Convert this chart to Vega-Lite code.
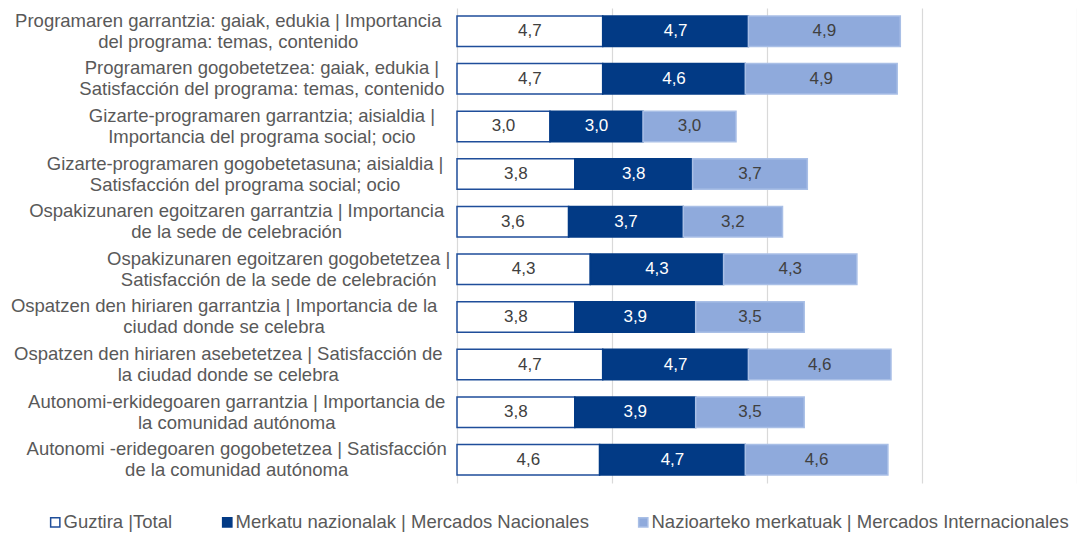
{
  "$schema": "https://vega.github.io/schema/vega-lite/v6.json",
  "width": 620,
  "height": 475,
  "autosize": {"type": "none"},
  "padding": {"left": 457, "top": 8, "right": 0, "bottom": 50},
  "background": "white",
  "config": {
    "view": {"stroke": null},
    "font": "Liberation Sans",
    "locale": {"number": {"decimal": ",", "thousands": ".", "grouping": [3], "currency": ["", " €"]}}
  },
  "data": {
    "values": [
      {"cat": "Programaren garrantzia: gaiak, edukia | Importancia\ndel programa: temas, contenido", "series": "Guztira |Total", "o": 1, "value": 4.7},
      {"cat": "Programaren garrantzia: gaiak, edukia | Importancia\ndel programa: temas, contenido", "series": "Merkatu nazionalak | Mercados Nacionales", "o": 2, "value": 4.7},
      {"cat": "Programaren garrantzia: gaiak, edukia | Importancia\ndel programa: temas, contenido", "series": "Nazioarteko merkatuak | Mercados Internacionales", "o": 3, "value": 4.9},
      {"cat": "Programaren gogobetetzea: gaiak, edukia |\nSatisfacción del programa: temas, contenido", "series": "Guztira |Total", "o": 1, "value": 4.7},
      {"cat": "Programaren gogobetetzea: gaiak, edukia |\nSatisfacción del programa: temas, contenido", "series": "Merkatu nazionalak | Mercados Nacionales", "o": 2, "value": 4.6},
      {"cat": "Programaren gogobetetzea: gaiak, edukia |\nSatisfacción del programa: temas, contenido", "series": "Nazioarteko merkatuak | Mercados Internacionales", "o": 3, "value": 4.9},
      {"cat": "Gizarte-programaren garrantzia; aisialdia |\nImportancia del programa social; ocio", "series": "Guztira |Total", "o": 1, "value": 3.0},
      {"cat": "Gizarte-programaren garrantzia; aisialdia |\nImportancia del programa social; ocio", "series": "Merkatu nazionalak | Mercados Nacionales", "o": 2, "value": 3.0},
      {"cat": "Gizarte-programaren garrantzia; aisialdia |\nImportancia del programa social; ocio", "series": "Nazioarteko merkatuak | Mercados Internacionales", "o": 3, "value": 3.0},
      {"cat": "Gizarte-programaren gogobetetasuna; aisialdia |\nSatisfacción del programa social; ocio", "series": "Guztira |Total", "o": 1, "value": 3.8},
      {"cat": "Gizarte-programaren gogobetetasuna; aisialdia |\nSatisfacción del programa social; ocio", "series": "Merkatu nazionalak | Mercados Nacionales", "o": 2, "value": 3.8},
      {"cat": "Gizarte-programaren gogobetetasuna; aisialdia |\nSatisfacción del programa social; ocio", "series": "Nazioarteko merkatuak | Mercados Internacionales", "o": 3, "value": 3.7},
      {"cat": "Ospakizunaren egoitzaren garrantzia | Importancia\nde la sede de celebración", "series": "Guztira |Total", "o": 1, "value": 3.6},
      {"cat": "Ospakizunaren egoitzaren garrantzia | Importancia\nde la sede de celebración", "series": "Merkatu nazionalak | Mercados Nacionales", "o": 2, "value": 3.7},
      {"cat": "Ospakizunaren egoitzaren garrantzia | Importancia\nde la sede de celebración", "series": "Nazioarteko merkatuak | Mercados Internacionales", "o": 3, "value": 3.2},
      {"cat": "Ospakizunaren egoitzaren gogobetetzea |\nSatisfacción de la sede de celebración", "series": "Guztira |Total", "o": 1, "value": 4.3},
      {"cat": "Ospakizunaren egoitzaren gogobetetzea |\nSatisfacción de la sede de celebración", "series": "Merkatu nazionalak | Mercados Nacionales", "o": 2, "value": 4.3},
      {"cat": "Ospakizunaren egoitzaren gogobetetzea |\nSatisfacción de la sede de celebración", "series": "Nazioarteko merkatuak | Mercados Internacionales", "o": 3, "value": 4.3},
      {"cat": "Ospatzen den hiriaren garrantzia | Importancia de la\nciudad donde se celebra", "series": "Guztira |Total", "o": 1, "value": 3.8},
      {"cat": "Ospatzen den hiriaren garrantzia | Importancia de la\nciudad donde se celebra", "series": "Merkatu nazionalak | Mercados Nacionales", "o": 2, "value": 3.9},
      {"cat": "Ospatzen den hiriaren garrantzia | Importancia de la\nciudad donde se celebra", "series": "Nazioarteko merkatuak | Mercados Internacionales", "o": 3, "value": 3.5},
      {"cat": "Ospatzen den hiriaren asebetetzea | Satisfacción de\nla ciudad donde se celebra", "series": "Guztira |Total", "o": 1, "value": 4.7},
      {"cat": "Ospatzen den hiriaren asebetetzea | Satisfacción de\nla ciudad donde se celebra", "series": "Merkatu nazionalak | Mercados Nacionales", "o": 2, "value": 4.7},
      {"cat": "Ospatzen den hiriaren asebetetzea | Satisfacción de\nla ciudad donde se celebra", "series": "Nazioarteko merkatuak | Mercados Internacionales", "o": 3, "value": 4.6},
      {"cat": "Autonomi-erkidegoaren garrantzia | Importancia de\nla comunidad autónoma", "series": "Guztira |Total", "o": 1, "value": 3.8},
      {"cat": "Autonomi-erkidegoaren garrantzia | Importancia de\nla comunidad autónoma", "series": "Merkatu nazionalak | Mercados Nacionales", "o": 2, "value": 3.9},
      {"cat": "Autonomi-erkidegoaren garrantzia | Importancia de\nla comunidad autónoma", "series": "Nazioarteko merkatuak | Mercados Internacionales", "o": 3, "value": 3.5},
      {"cat": "Autonomi -eridegoaren gogobetetzea | Satisfacción\nde la comunidad autónoma", "series": "Guztira |Total", "o": 1, "value": 4.6},
      {"cat": "Autonomi -eridegoaren gogobetetzea | Satisfacción\nde la comunidad autónoma", "series": "Merkatu nazionalak | Mercados Nacionales", "o": 2, "value": 4.7},
      {"cat": "Autonomi -eridegoaren gogobetetzea | Satisfacción\nde la comunidad autónoma", "series": "Nazioarteko merkatuak | Mercados Internacionales", "o": 3, "value": 4.6}
    ]
  },
  "transform": [
    {"stack": "value", "groupby": ["cat"], "sort": [{"field": "o", "order": "ascending"}], "as": ["x0", "x1"]},
    {"calculate": "(datum.x0 + datum.x1) / 2", "as": "mid"}
  ],
  "encoding": {
    "y": {
      "field": "cat",
      "type": "nominal",
      "sort": null,
      "title": null,
      "scale": {"paddingInner": 0.36, "paddingOuter": 0.168},
      "axis": {
        "domain": false,
        "ticks": false,
        "labelExpr": "split(datum.value, '\\n')",
        "labelAlign": "center",
        "labelBaseline": "middle",
        "labelLineHeight": 21,
        "labelOffset": -10.5,
        "labelFontSize": 18.5,
        "labelColor": "#595959",
        "labelLimit": 600,
        "labelPadding": {"expr": "15 + 4.2 * max(length(split(datum.value, '\\n')[0]), length(split(datum.value, '\\n')[1]))"}
      }
    }
  },
  "layer": [
    {
      "mark": {"type": "bar", "strokeWidth": 1.5},
      "encoding": {
        "x": {
          "field": "x0",
          "type": "quantitative",
          "title": null,
          "scale": {"domain": [0, 20], "nice": false},
          "axis": {"values": [0, 5, 10, 15, 20], "labels": false, "ticks": false, "domain": false, "grid": true, "gridColor": "#D9D9D9", "gridWidth": 1.2}
        },
        "x2": {"field": "x1"},
        "fill": {
          "field": "series",
          "type": "nominal",
          "sort": null,
          "scale": {"domain": ["Guztira |Total", "Merkatu nazionalak | Mercados Nacionales", "Nazioarteko merkatuak | Mercados Internacionales"], "range": ["#FFFFFF", "#023A85", "#8FAADC"]},
          "legend": {
            "title": null,
            "orient": "none",
            "direction": "horizontal",
            "legendX": -411,
            "legendY": 505,
            "symbolType": "square",
            "symbolSize": 85,
            "symbolStrokeWidth": 1.5,
            "labelFontSize": 18.5,
            "labelColor": "#595959",
            "labelOffset": -1,
            "columnPadding": 45,
            "labelLimit": 600
          }
        },
        "stroke": {
          "field": "series",
          "type": "nominal",
          "sort": null,
          "scale": {"domain": ["Guztira |Total", "Merkatu nazionalak | Mercados Nacionales", "Nazioarteko merkatuak | Mercados Internacionales"], "range": ["#1F4E9A", "#023A85", "#A9BFE6"]},
          "legend": null
        }
      }
    },
    {
      "mark": {"type": "text", "fontSize": 17, "baseline": "middle", "align": "center"},
      "encoding": {
        "x": {"field": "mid", "type": "quantitative"},
        "text": {"field": "value", "type": "quantitative", "format": ".1f"},
        "color": {
          "condition": {"test": "datum.o == 2", "value": "#FFFFFF"},
          "value": "#404040"
        }
      }
    }
  ]
}
